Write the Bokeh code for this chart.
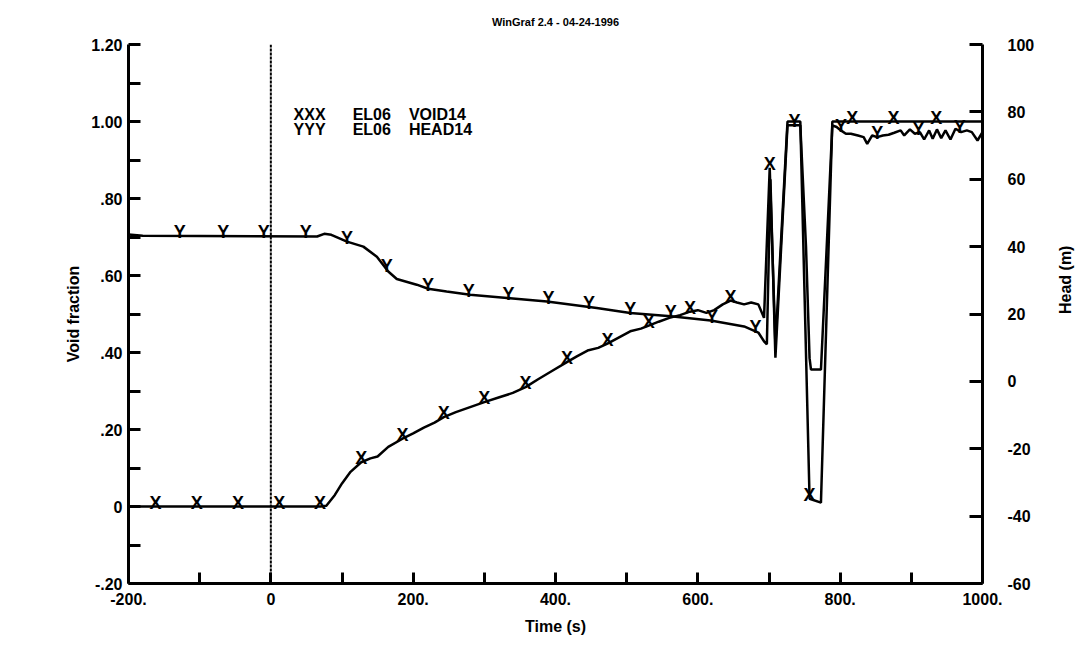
import math
from bokeh.plotting import figure
from bokeh.models import (Range1d, LinearAxis, FixedTicker, Span, Label)
from bokeh.embed import file_html
from bokeh.resources import INLINE
from bokeh.core.properties import value
import numpy as np

# ---- EL06 VOID14 : void fraction (left axis) ----
void_time = [-200, 70, 78, 90, 100, 112, 127, 140, 150, 165, 185, 200, 215, 230,
             243, 260, 280, 300, 320, 340, 358, 375, 395, 416, 430, 445, 460, 473,
             490, 505, 520, 531, 545, 560, 575, 589, 600, 612, 623, 635, 646, 655,
             665, 675, 685, 693, 701, 709, 726, 744, 757, 773, 789, 1000]
void_frac = [0.0, 0.0, 0.002, 0.03, 0.06, 0.09, 0.115, 0.125, 0.13, 0.155, 0.176,
             0.19, 0.205, 0.218, 0.232, 0.245, 0.258, 0.271, 0.283, 0.295, 0.31,
             0.33, 0.352, 0.375, 0.39, 0.405, 0.412, 0.423, 0.44, 0.455, 0.462,
             0.47, 0.48, 0.49, 0.497, 0.506, 0.51, 0.503, 0.51, 0.525, 0.535, 0.53,
             0.525, 0.53, 0.525, 0.49, 0.88, 0.42, 1.0, 1.0, 0.02, 0.01, 1.0, 1.0]

# ---- EL06 HEAD14 : head in metres (right axis) ----
head_time = [-200, -180, 65, 75, 85, 107, 130, 149, 165, 177, 205, 221, 247, 280,
             336, 388, 458, 505, 562, 618, 665, 685, 693, 697, 702, 709, 726, 744,
             752, 757, 759, 773, 780, 789, 795, 801, 808, 815, 825, 833, 838, 845,
             852, 860, 868, 876, 885, 890, 898, 905, 912, 918, 925, 930, 936, 942,
             948, 955, 962, 970, 978, 985, 993, 1000]
head_m = [43.6, 43.2, 43.0, 43.8, 43.5, 41.5, 40.0, 37.0, 32.6, 30.4, 28.7, 27.5,
          26.7, 25.7, 24.7, 23.7, 21.8, 20.3, 19.3, 18.1, 16.3, 14.5, 11.9, 11.0,
          60.0, 7.0, 76.0, 76.0, 40.0, 6.9, 3.5, 3.5, 35.0, 76.0, 75.5, 74.5,
          73.5, 73.5, 73.0, 72.5, 70.5, 73.0, 72.5, 73.0, 73.2, 73.8, 74.5, 73.0,
          74.8, 73.5, 74.0, 71.8, 74.5, 72.0, 74.8, 72.2, 74.5, 71.8, 75.0, 74.0,
          74.5, 74.0, 71.5, 74.0]

# times at which the curve identifiers are printed along each curve
void_mark_time = [-162, -104, -46, 12, 69, 127, 185, 243, 300, 358, 416, 473,
                  531, 589, 646, 701, 757, 817, 875, 935]
head_mark_time = [-128, -67, -10, 49, 107, 163, 221, 278, 334, 390, 447, 505,
                  562, 620, 681, 736, 801, 852, 910, 968]

x_ticks = [-200, 0, 200, 400, 600, 800, 1000]
x_tick_text = ["-200.", "0", "200.", "400.", "600.", "800.", "1000."]
void_ticks = [-0.2, 0.0, 0.2, 0.4, 0.6, 0.8, 1.0, 1.2]
void_tick_text = ["-.20", "0", ".20", ".40", ".60", ".80", "1.00", "1.20"]
head_ticks = [-60, -40, -20, 0, 20, 40, 60, 80, 100]
head_tick_text = ["-60", "-40", "-20", "0", "20", "40", "60", "80", "100"]

FONT = "Liberation Sans"

p = figure(width=1085, height=646, output_backend="svg", toolbar_location=None,
           x_range=Range1d(-200, 1000), y_range=Range1d(-0.2, 1.2),
           min_border_left=128, min_border_right=103, min_border_top=44,
           min_border_bottom=63)
p.extra_y_ranges = {"head": Range1d(-60, 100)}
p.outline_line_color = None
p.xgrid.visible = False
p.ygrid.visible = False
p.background_fill_color = "white"
p.border_fill_color = "white"

p.title.text = "WinGraf 2.4 - 04-24-1996"
p.title.align = "center"
p.title.vertical_align = "top"
p.title.text_font = FONT
p.title.text_font_style = "bold"
p.title.text_font_size = "11px"
p.title.text_color = "black"
p.title.standoff = 30


def style_axis(ax, tick_len):
    ax.axis_line_width = 3
    ax.axis_line_color = "black"
    ax.major_tick_in = tick_len
    ax.major_tick_out = 0
    ax.minor_tick_in = tick_len
    ax.minor_tick_out = 0
    ax.major_tick_line_width = 3
    ax.minor_tick_line_width = 3
    ax.major_tick_line_color = "black"
    ax.minor_tick_line_color = "black"
    ax.major_label_text_font = FONT
    ax.major_label_text_font_style = "bold"
    ax.major_label_text_font_size = "16px"
    ax.major_label_text_color = "black"
    ax.axis_label_text_font = FONT
    ax.axis_label_text_font_style = "bold"
    ax.axis_label_text_font_size = "16px"
    ax.axis_label_text_color = "black"


# bottom: time
xa = p.xaxis[0]
xa.ticker = FixedTicker(ticks=x_ticks,
                        minor_ticks=[t + 100 for t in x_ticks[:-1]])
xa.major_label_overrides = dict(zip(x_ticks, x_tick_text))
xa.axis_label = "Time (s)"
style_axis(xa, 11)
xa.major_label_standoff = 9
xa.axis_label_standoff = 10

# left: void fraction
ya = p.yaxis[0]
ya.ticker = FixedTicker(ticks=void_ticks,
                        minor_ticks=[round(t + 0.1, 1) for t in void_ticks[:-1]])
ya.major_label_overrides = dict(zip(void_ticks, void_tick_text))
ya.axis_label = "Void fraction"
style_axis(ya, 12)
ya.major_label_standoff = 6
ya.axis_label_standoff = 6

# right: head
ra = LinearAxis(y_range_name="head")
ra.ticker = FixedTicker(ticks=head_ticks)
ra.major_label_overrides = dict(zip(head_ticks, head_tick_text))
style_axis(ra, 13)
ra.major_label_standoff = 25
ra.axis_label = "Head (m)"
ra.axis_label_standoff = 28
ra.axis_label_orientation = math.pi / 2
p.add_layout(ra, "right")

# time zero marker
p.add_layout(Span(location=0, dimension="height", line_color="black",
                  line_width=2, line_dash="3 1"))

# curves
p.line(void_time, void_frac, line_color="black", line_width=2.5)
p.line(head_time, head_m, line_color="black", line_width=2.5, y_range_name="head")

void_mark_val = np.interp(void_mark_time, void_time, void_frac)
head_mark_val = np.interp(head_mark_time, head_time, head_m)
p.text(void_mark_time, void_mark_val, text=["X"] * len(void_mark_time),
       text_align="center", text_baseline="middle", y_offset=-4,
       text_font=value(FONT), text_font_style="bold", text_font_size="18px",
       text_color="black")
p.text(head_mark_time, head_mark_val, text=["Y"] * len(head_mark_time),
       text_align="center", text_baseline="middle", y_offset=-4,
       text_font=value(FONT), text_font_style="bold", text_font_size="18px",
       text_color="black", y_range_name="head")

# curve key
key_cols_x = [32, 115, 194]
key_rows = [["XXX", "EL06", "VOID14"], ["YYY", "EL06", "HEAD14"]]
key_rows_y = [1.018, 0.979]
for row, ky in zip(key_rows, key_rows_y):
    for kx, txt in zip(key_cols_x, row):
        p.add_layout(Label(x=kx, y=ky, text=txt, text_align="left",
                           text_baseline="middle", text_font=FONT,
                           text_font_style="bold", text_font_size="16px",
                           text_color="black"))

open("out.html", "w").write(file_html(p, INLINE))
